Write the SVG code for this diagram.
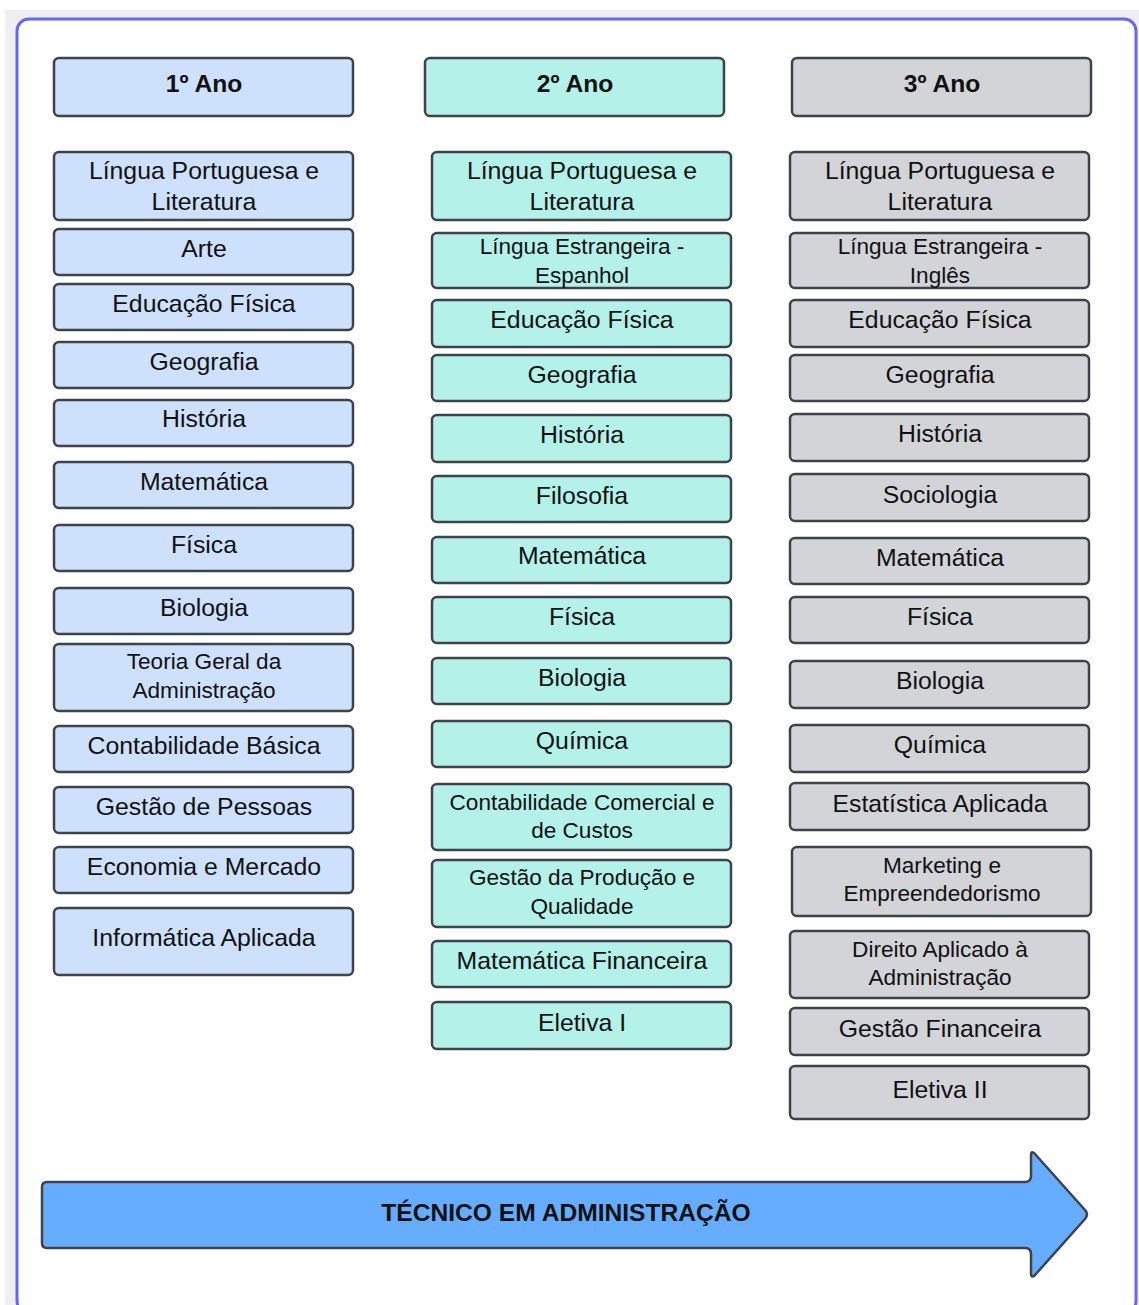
<svg xmlns="http://www.w3.org/2000/svg" width="1139" height="1305" viewBox="0 0 1139 1305">
<style>
.b{stroke:#3d4349;stroke-width:2.5}
.c1{fill:#cde0fc}
.c2{fill:#b3f1e9}
.c3{fill:#d2d4d8}
text{font-family:"Liberation Sans",Arial,sans-serif;fill:#111;text-anchor:middle}
.t{font-size:24.8px}
.s{font-size:22.6px}
.h{font-size:24.6px;font-weight:bold}
</style>
<rect x="0" y="0" width="1139" height="1305" fill="#ffffff"/>
<rect x="5" y="10" width="1134" height="1295" fill="#f0eff4"/>
<rect x="17" y="19" width="1119" height="1294" rx="12" fill="#ffffff" stroke="#6466f7" stroke-width="3"/>
<g id="col1">
<g id="h1"><rect class="b c1" x="54" y="58" width="299" height="58" rx="5"/><text class="h" x="204" y="92">1º Ano</text></g>
<g id="a1"><rect class="b c1" x="54" y="152" width="299" height="68" rx="5"/><text class="t" x="204" y="179">Língua Portuguesa e</text><text class="t" x="204" y="210">Literatura</text></g>
<g id="a2"><rect class="b c1" x="54" y="229" width="299" height="46" rx="5"/><text class="t" x="204" y="257">Arte</text></g>
<g id="a3"><rect class="b c1" x="54" y="284" width="299" height="46" rx="5"/><text class="t" x="204" y="312">Educação Física</text></g>
<g id="a4"><rect class="b c1" x="54" y="342" width="299" height="46" rx="5"/><text class="t" x="204" y="370">Geografia</text></g>
<g id="a5"><rect class="b c1" x="54" y="400" width="299" height="46" rx="5"/><text class="t" x="204" y="427">História</text></g>
<g id="a6"><rect class="b c1" x="54" y="462" width="299" height="46" rx="5"/><text class="t" x="204" y="490">Matemática</text></g>
<g id="a7"><rect class="b c1" x="54" y="525" width="299" height="46" rx="5"/><text class="t" x="204" y="553">Física</text></g>
<g id="a8"><rect class="b c1" x="54" y="588" width="299" height="46" rx="5"/><text class="t" x="204" y="616">Biologia</text></g>
<g id="a9"><rect class="b c1" x="54" y="644" width="299" height="67" rx="5"/><text class="s" x="204" y="669">Teoria Geral da</text><text class="s" x="204" y="698">Administração</text></g>
<g id="a10"><rect class="b c1" x="54" y="726" width="299" height="46" rx="5"/><text class="t" x="204" y="754">Contabilidade Básica</text></g>
<g id="a11"><rect class="b c1" x="54" y="787" width="299" height="46" rx="5"/><text class="t" x="204" y="815">Gestão de Pessoas</text></g>
<g id="a12"><rect class="b c1" x="54" y="847" width="299" height="46" rx="5"/><text class="t" x="204" y="875">Economia e Mercado</text></g>
<g id="a13"><rect class="b c1" x="54" y="908" width="299" height="67" rx="5"/><text class="t" x="204" y="946">Informática Aplicada</text></g>
</g>
<g id="col2">
<g id="h2"><rect class="b c2" x="425" y="58" width="299" height="58" rx="5"/><text class="h" x="575" y="92">2º Ano</text></g>
<g id="b1"><rect class="b c2" x="432" y="152" width="299" height="68" rx="5"/><text class="t" x="582" y="179">Língua Portuguesa e</text><text class="t" x="582" y="210">Literatura</text></g>
<g id="b2"><rect class="b c2" x="432" y="233" width="299" height="55" rx="5"/><text class="s" x="582" y="254">Língua Estrangeira -</text><text class="s" x="582" y="283">Espanhol</text></g>
<g id="b3"><rect class="b c2" x="432" y="300" width="299" height="47" rx="5"/><text class="t" x="582" y="328">Educação Física</text></g>
<g id="b4"><rect class="b c2" x="432" y="355" width="299" height="46" rx="5"/><text class="t" x="582" y="383">Geografia</text></g>
<g id="b5"><rect class="b c2" x="432" y="415" width="299" height="47" rx="5"/><text class="t" x="582" y="443">História</text></g>
<g id="b6"><rect class="b c2" x="432" y="476" width="299" height="46" rx="5"/><text class="t" x="582" y="504">Filosofia</text></g>
<g id="b7"><rect class="b c2" x="432" y="537" width="299" height="46" rx="5"/><text class="t" x="582" y="564">Matemática</text></g>
<g id="b8"><rect class="b c2" x="432" y="597" width="299" height="46" rx="5"/><text class="t" x="582" y="625">Física</text></g>
<g id="b9"><rect class="b c2" x="432" y="658" width="299" height="46" rx="5"/><text class="t" x="582" y="686">Biologia</text></g>
<g id="b10"><rect class="b c2" x="432" y="721" width="299" height="46" rx="5"/><text class="t" x="582" y="749">Química</text></g>
<g id="b11"><rect class="b c2" x="432" y="784" width="299" height="66" rx="5"/><text class="s" x="582" y="810">Contabilidade Comercial e</text><text class="s" x="582" y="838">de Custos</text></g>
<g id="b12"><rect class="b c2" x="432" y="860" width="299" height="67" rx="5"/><text class="s" x="582" y="885">Gestão da Produção e</text><text class="s" x="582" y="914">Qualidade</text></g>
<g id="b13"><rect class="b c2" x="432" y="941" width="299" height="46" rx="5"/><text class="t" x="582" y="969">Matemática Financeira</text></g>
<g id="b14"><rect class="b c2" x="432" y="1002" width="299" height="47" rx="5"/><text class="t" x="582" y="1031">Eletiva I</text></g>
</g>
<g id="col3">
<g id="h3"><rect class="b c3" x="792" y="58" width="299" height="58" rx="5"/><text class="h" x="942" y="92">3º Ano</text></g>
<g id="c1"><rect class="b c3" x="790" y="152" width="299" height="68" rx="5"/><text class="t" x="940" y="179">Língua Portuguesa e</text><text class="t" x="940" y="210">Literatura</text></g>
<g id="c2"><rect class="b c3" x="790" y="233" width="299" height="55" rx="5"/><text class="s" x="940" y="254">Língua Estrangeira -</text><text class="s" x="940" y="283">Inglês</text></g>
<g id="c3"><rect class="b c3" x="790" y="300" width="299" height="47" rx="5"/><text class="t" x="940" y="328">Educação Física</text></g>
<g id="c4"><rect class="b c3" x="790" y="355" width="299" height="46" rx="5"/><text class="t" x="940" y="383">Geografia</text></g>
<g id="c5"><rect class="b c3" x="790" y="414" width="299" height="47" rx="5"/><text class="t" x="940" y="442">História</text></g>
<g id="c6"><rect class="b c3" x="790" y="474" width="299" height="47" rx="5"/><text class="t" x="940" y="503">Sociologia</text></g>
<g id="c7"><rect class="b c3" x="790" y="538" width="299" height="46" rx="5"/><text class="t" x="940" y="566">Matemática</text></g>
<g id="c8"><rect class="b c3" x="790" y="597" width="299" height="46" rx="5"/><text class="t" x="940" y="625">Física</text></g>
<g id="c9"><rect class="b c3" x="790" y="661" width="299" height="47" rx="5"/><text class="t" x="940" y="689">Biologia</text></g>
<g id="c10"><rect class="b c3" x="790" y="725" width="299" height="47" rx="5"/><text class="t" x="940" y="753">Química</text></g>
<g id="c11"><rect class="b c3" x="790" y="783" width="299" height="47" rx="5"/><text class="t" x="940" y="812">Estatística Aplicada</text></g>
<g id="c12"><rect class="b c3" x="792" y="847" width="299" height="69" rx="5"/><text class="s" x="942" y="873">Marketing e</text><text class="s" x="942" y="901">Empreendedorismo</text></g>
<g id="c13"><rect class="b c3" x="790" y="931" width="299" height="67" rx="5"/><text class="s" x="940" y="957">Direito Aplicado à</text><text class="s" x="940" y="985">Administração</text></g>
<g id="c14"><rect class="b c3" x="790" y="1008" width="299" height="47" rx="5"/><text class="t" x="940" y="1037">Gestão Financeira</text></g>
<g id="c15"><rect class="b c3" x="790" y="1066" width="299" height="53" rx="5"/><text class="t" x="940" y="1098">Eletiva II</text></g>
</g>
<g id="connectors"></g>
<g id="arrow">
<path d="M47 1182 L1025 1182 Q1031 1182 1031 1176 L1031 1155 Q1031 1150 1035 1154 L1085 1210 Q1089 1214 1085 1219 L1035 1275 Q1031 1279 1031 1273 L1031 1254 Q1031 1248 1025 1248 L47 1248 Q42 1248 42 1243 L42 1187 Q42 1182 47 1182 Z" fill="#66acff" stroke="#3d4349" stroke-width="2.5" stroke-linejoin="round"/>
<text class="h" x="566" y="1221">TÉCNICO EM ADMINISTRAÇÃO</text>
</g>
</svg>
